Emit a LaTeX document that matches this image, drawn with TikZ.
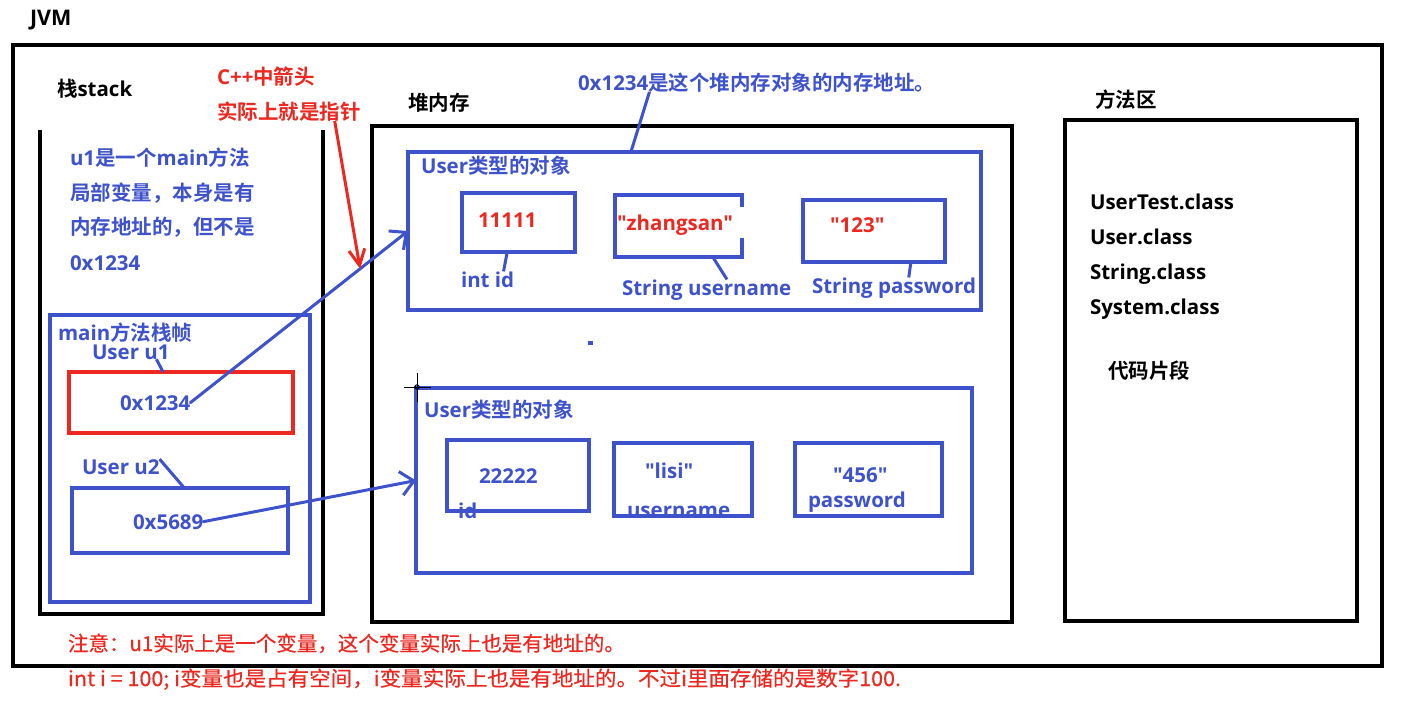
\documentclass[tikz,border=0pt]{standalone}
\usepackage{fontspec}
\usepackage{graphicx}
\usetikzlibrary{arrows.meta,calc}
\newfontfamily\zhfont{Noto Sans CJK SC}[BoldFont={Noto Sans CJK SC Bold}]
\newfontfamily\notefont{Noto Sans CJK SC}[FakeBold=0.5]
\newfontfamily\enfont{Open Sans}
\newcommand\ltn[1]{{\enfont #1}}
\definecolor{jblue}{RGB}{62,82,204}
\definecolor{jred}{RGB}{236,40,32}
\tikzset{
  lbl/.style={inner sep=0pt, outer sep=0pt, anchor=base west,
    font=\fontsize{20.5}{24}\selectfont\zhfont\bfseries},
  latin/.style={lbl, font=\fontsize{20.5}{24}\selectfont\enfont\bfseries},
  note/.style={inner sep=0pt, outer sep=0pt, anchor=base west, text=jred,
    font=\fontsize{20.5}{24}\selectfont\notefont},
  area/.style={draw=black, line width=4pt},
  blk/.style={rectangle, inner sep=0pt, outer sep=0pt, anchor=north west},
  bbox/.style={draw=jblue, line width=3.5pt},
  link/.style={draw=jblue, line width=3pt},
  arr/.style={draw=jblue, line width=3pt, line cap=round,
    -{Straight Barb[length=13pt, width=24pt, line width=3pt]}},
  rarr/.style={draw=jred, line width=3pt,
    -{Straight Barb[length=16pt, width=16pt, line width=3pt]}},
}
\begin{document}
\begin{tikzpicture}[x=1pt, y=-1pt]
\useasboundingbox (0,0) rectangle (1405,702);
\fill[white] (0,0) rectangle (1405,702);

% JVM frame
\node[latin, font=\fontsize{21.5}{24}\selectfont\enfont\bfseries] (jvm) at (30,25) {JVM};
\node[blk, area, minimum width=1369pt, minimum height=621pt] (jvmbox) at (13,45) {};

% stack (open at the top)
\node[lbl] (stacklbl) at (57,96) {栈\ltn{stack}};
\draw[area] (40,130) -- (40,614) -- (323,614) -- (323,130);
\node[lbl, text=jblue] (s1) at (70,165) {\ltn{u1}是一个\ltn{main}方法};
\node[lbl, text=jblue] (s2) at (70,200) {局部变量，本身是有};
\node[lbl, text=jblue] (s3) at (70,234) {内存地址的，但不是};
\node[latin, text=jblue] (s4) at (70,270) {0x1234};

% main stack frame
\node[blk, bbox, minimum width=260pt, minimum height=287pt] (frame) at (50,315) {};
\node[lbl, text=jblue] (framelbl) at (58,340) {\ltn{main}方法栈帧};
\node[latin, text=jblue] (u1lbl) at (92,359) {User u1};
\node[blk, draw=jred, line width=4pt, minimum width=224pt, minimum height=61pt] (u1box) at (69,372) {};
\node[latin, text=jblue] (u1val) at (120,410) {0x1234};
\node[latin, text=jblue] (u2lbl) at (82,474) {User u2};
\node[blk, bbox, minimum width=216pt, minimum height=65pt] (u2box) at (72,488) {};
\node[latin, text=jblue] (u2val) at (133,529) {0x5689};
\draw[link] ($(u1lbl.south west)!0.83!(u1lbl.south east)$) -- ($(u1box.north west)!0.42!(u1box.north east)$);
\draw[link] (u2lbl.north east) -- ($(u2box.north west)!0.52!(u2box.north east)$);

% pointer remark
\node[lbl, text=jred] (cpp1) at (217,84) {\ltn{C++}中箭头};
\node[lbl, text=jred] (cpp2) at (217,119) {实际上就是指针};

% heap
\node[lbl] (heaplbl) at (408,110) {堆内存};
\node[blk, area, minimum width=640pt, minimum height=496pt] (heap) at (372,126) {};
\node[lbl, text=jblue] (heapnote) at (578,90) {\ltn{0x1234}是这个堆内存对象的内存地址。};

% first object
\node[blk, bbox, minimum width=573pt, minimum height=158pt] (obj1) at (408,152) {};
\node[lbl, text=jblue] (obj1lbl) at (421,173) {\ltn{User}类型的对象};
\node[latin, text=jred] (v11) at (478,227) {11111};
\node[latin, text=jred] (vzs) at (617,230) {"zhangsan"};
\node[latin, text=jred] (v123) at (830,232) {"123"};
\node[latin, text=jblue] (intid) at (461,287) {int id};
\node[latin, text=jblue] (strun) at (622,295) {String username};
\node[latin, text=jblue] (strpw) at (812,293) {String password};
\node[blk, bbox, minimum width=113pt, minimum height=59pt] (idbox) at (462,193) {};
\node[blk, minimum width=127pt, minimum height=62pt] (zsbox) at (615,195) {};
\draw[bbox] ($(zsbox.north east)+(0,12)$) -- (zsbox.north east) -- (zsbox.north west)
  -- (zsbox.south west) -- (zsbox.south east) -- ($(zsbox.south east)+(0,-19)$);
\node[blk, bbox, minimum width=142pt, minimum height=62pt] (pwbox) at (803,200) {};
\draw[link] ($(idbox.south west)!0.4!(idbox.south east)$) -- ($(intid.north west)!0.8!(intid.north east)$);
\draw[link] ($(zsbox.south west)!0.77!(zsbox.south east)$) -- ($(strun.north west)!0.62!(strun.north east)$);
\draw[link] ($(pwbox.south west)!0.76!(pwbox.south east)$) -- ($(strpw.north west)!0.59!(strpw.north east)$);
\draw[link] ($(heapnote.south west)!0.2!(heapnote.south east)$) -- ($(obj1.north west)!0.389!(obj1.north east)$);

% stray mark
\fill[jblue] (588,341) rectangle (593,345);

% second object
\node[blk, bbox, minimum width=556pt, minimum height=185pt] (obj2) at (416,388) {};
\node[lbl, text=jblue] (obj2lbl) at (424,417) {\ltn{User}类型的对象};
\node[latin, text=jblue] (v22) at (479,483) {22222};
\node[latin, text=jblue] (idlbl) at (458,518) {id};
\node[latin, text=jblue] (vlisi) at (645,478) {"lisi"};
\node[latin, text=jblue] (unlbl) at (627,517) {username};
\node[latin, text=jblue] (v456) at (833,482) {"456"};
\node[latin, text=jblue] (pwlbl) at (808,507) {password};
\node[blk, bbox, minimum width=142pt, minimum height=71pt] (box22) at (447,440) {};
\node[blk, bbox, minimum width=138pt, minimum height=73pt] (boxlisi) at (614,443) {};
\node[blk, bbox, minimum width=147pt, minimum height=73pt] (box456) at (795,443) {};

% cursor cross
\draw[black, line width=1pt] (417,373) -- (417,402) (404,387) -- (431,387);
\draw[black, line width=1pt] (417,387) circle (2.2);

% method area
\node[lbl] (methlbl) at (1095,107) {方法区};
\node[blk, area, minimum width=292pt, minimum height=501pt] (meth) at (1065,120) {};
\node[latin] (c1) at (1090,209) {UserTest.class};
\node[latin] (c2) at (1090,244) {User.class};
\node[latin] (c3) at (1090,279) {String.class};
\node[latin] (c4) at (1090,314) {System.class};
\node[lbl] (code) at (1108,378) {代码片段};

% references
\draw[arr] (u1val.east) -- (obj1.west);
\draw[arr] (u2val.east) -- (obj2.west);
\draw[rarr] ($(cpp2.south west)!0.82!(cpp2.south east)$) -- ($(u1val.east)!0.78!(obj1.west)$);

% notes
\node[note] (n1) at (68,651) {注意：u1实际上是一个变量，这个变量实际上也是有地址的。};
\node[note] (n2) at (68,686) {\scalebox{1.05}[1]{int i = 100; i变量也是占有空间，i变量实际上也是有地址的。不过i里面存储的是数字100.}};
\end{tikzpicture}
\end{document}
